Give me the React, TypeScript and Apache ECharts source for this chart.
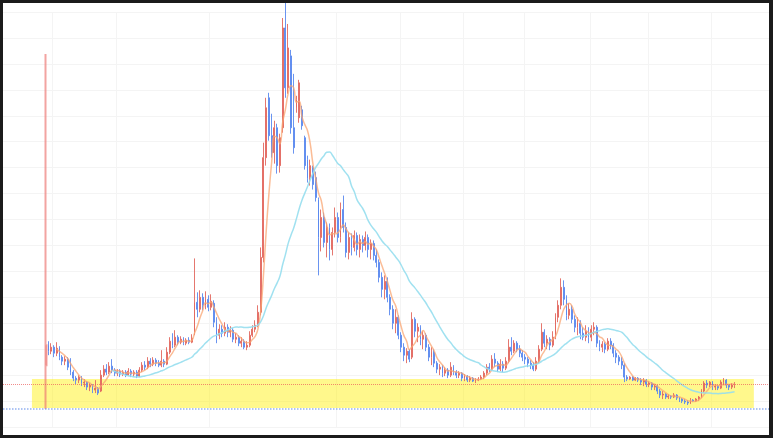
import React, { useEffect, useRef } from "react";
import * as echarts from "echarts";

// candles: [open, close, low, high]
const candles: number[][] = [
  [62, 82, 18, 374], [82, 76, 72, 86], [76, 80, 73, 84], [80, 74, 70, 82], [74, 79, 71, 85],
  [79, 70, 67, 81], [70, 66, 62, 72], [66, 68, 62, 71], [68, 60, 57, 70], [60, 55, 52, 69],
  [55, 49, 46, 57], [49, 47, 43, 51], [47, 50, 44, 52], [50, 44, 41, 51], [44, 45, 40, 48],
  [45, 40, 37, 46], [40, 42, 36, 44], [42, 37, 34, 43], [37, 39, 34, 47], [39, 34, 32, 40],
  [36, 52, 35, 57], [52, 58, 50, 62], [58, 55, 52, 63], [55, 61, 53, 65], [61, 57, 54, 68],
  [57, 54, 51, 59], [54, 56, 51, 58], [56, 53, 50, 58], [53, 55, 51, 57], [55, 52, 50, 57],
  [52, 56, 51, 59], [56, 53, 50, 58], [53, 55, 50, 57], [55, 51, 49, 57], [51, 57, 50, 60],
  [57, 62, 55, 65], [62, 60, 57, 66], [60, 66, 58, 70], [66, 63, 60, 69], [63, 67, 61, 70],
  [67, 64, 61, 69], [64, 62, 60, 67], [62, 66, 60, 77], [66, 63, 60, 68], [63, 75, 62, 80],
  [75, 86, 73, 90], [86, 82, 79, 94], [82, 90, 80, 97], [90, 85, 82, 92], [85, 88, 83, 91],
  [88, 84, 82, 90], [84, 87, 82, 89], [87, 85, 83, 90], [85, 89, 84, 93], [95, 125, 92, 169],
  [125, 118, 110, 135], [118, 130, 115, 137], [130, 122, 117, 134], [122, 128, 118, 136], [128, 120, 116, 132],
  [120, 126, 117, 133], [124, 105, 100, 127], [105, 92, 84, 110], [92, 98, 88, 103], [98, 94, 90, 102],
  [94, 100, 91, 105], [100, 95, 90, 103], [95, 97, 90, 101], [97, 88, 85, 99], [88, 90, 84, 94],
  [90, 84, 81, 92], [84, 86, 80, 90], [86, 80, 78, 88], [80, 82, 77, 86], [82, 92, 80, 96],
  [92, 98, 90, 102], [98, 102, 95, 107], [102, 115, 100, 122], [115, 170, 112, 180], [170, 270, 165, 285],
  [270, 320, 262, 330], [330, 292, 287, 335], [292, 275, 270, 314], [275, 300, 264, 307], [300, 262, 254, 304],
  [262, 290, 255, 294], [300, 400, 295, 410], [400, 340, 330, 427], [340, 380, 334, 404], [372, 300, 294, 378],
  [300, 280, 274, 354], [320, 328, 315, 332], [310, 345, 305, 348], [318, 302, 298, 322], [290, 262, 258, 292],
  [268, 249, 245, 272], [250, 262, 242, 268], [260, 243, 238, 262], [250, 230, 226, 256], [228, 190, 152, 230],
  [190, 210, 176, 218], [210, 185, 180, 215], [185, 200, 170, 205], [200, 178, 167, 204], [178, 195, 172, 200],
  [195, 210, 190, 220], [210, 190, 185, 215], [190, 218, 185, 225], [218, 200, 195, 232], [200, 175, 170, 205],
  [175, 190, 168, 195], [190, 180, 172, 194], [180, 192, 176, 197], [192, 178, 172, 195], [178, 188, 170, 193],
  [188, 182, 175, 192], [182, 190, 177, 196], [190, 178, 170, 193], [178, 184, 168, 188], [184, 172, 167, 187],
  [172, 165, 160, 178], [165, 150, 145, 168], [150, 138, 130, 155], [138, 146, 128, 152], [146, 130, 125, 150],
  [130, 118, 112, 133], [118, 104, 98, 122], [104, 110, 94, 118], [110, 92, 88, 112], [92, 80, 75, 95],
  [80, 72, 66, 84], [72, 76, 64, 79], [76, 68, 65, 78], [70, 108, 68, 115], [108, 96, 90, 110],
  [96, 100, 85, 104], [100, 88, 82, 102], [88, 92, 78, 96], [92, 80, 76, 94], [80, 70, 66, 83],
  [70, 75, 62, 80], [75, 64, 60, 78], [64, 58, 54, 66], [58, 60, 52, 63], [60, 54, 50, 62],
  [54, 57, 51, 60], [57, 52, 49, 59], [52, 60, 50, 65], [60, 55, 52, 62], [55, 52, 49, 57],
  [52, 54, 49, 56], [54, 49, 46, 55], [49, 51, 46, 53], [51, 47, 45, 52], [47, 49, 45, 51],
  [49, 46, 45, 50], [46, 47, 44, 49], [47, 48, 46, 50], [48, 50, 47, 52], [50, 54, 48, 56],
  [54, 60, 52, 63], [60, 58, 55, 64], [58, 68, 56, 72], [68, 64, 60, 74], [64, 58, 55, 66],
  [58, 63, 56, 68], [63, 59, 55, 66], [59, 66, 57, 70], [66, 80, 64, 88], [80, 76, 72, 90],
  [76, 84, 74, 87], [84, 78, 75, 86], [78, 74, 70, 82], [74, 70, 66, 77], [70, 68, 63, 73],
  [68, 64, 60, 70], [64, 62, 58, 67], [62, 58, 56, 65], [58, 66, 56, 70], [66, 78, 64, 82],
  [78, 95, 76, 104], [95, 84, 80, 98], [84, 88, 78, 92], [88, 82, 77, 90], [82, 90, 80, 96],
  [90, 110, 88, 114], [110, 122, 105, 127], [122, 140, 118, 149], [140, 128, 122, 147], [128, 112, 107, 132],
  [112, 118, 108, 124], [118, 108, 104, 122], [108, 100, 95, 112], [100, 104, 92, 110], [104, 94, 88, 107],
  [94, 90, 87, 100], [90, 96, 86, 102], [96, 90, 84, 100], [90, 98, 86, 102], [98, 100, 92, 105],
  [100, 84, 80, 102], [84, 80, 76, 87], [80, 83, 75, 86], [83, 78, 74, 85], [78, 86, 76, 89],
  [86, 82, 78, 89], [82, 74, 70, 84], [74, 70, 64, 77], [70, 66, 62, 72], [66, 62, 58, 70],
  [62, 50, 45, 64], [50, 48, 46, 52], [48, 50, 47, 51], [50, 47, 46, 51], [47, 49, 46, 50],
  [49, 47, 45, 50], [47, 45, 42, 49], [45, 47, 41, 49], [47, 43, 40, 48], [43, 44, 40, 46],
  [44, 40, 37, 45], [40, 41, 37, 43], [41, 36, 33, 42], [36, 32, 29, 38], [32, 33, 28, 36],
  [33, 30, 28, 34], [30, 31, 28, 33], [31, 30, 28, 32], [30, 32, 29, 34], [32, 29, 27, 33],
  [29, 28, 25, 30], [28, 26, 24, 29], [26, 25, 23, 28], [25, 24, 22, 27], [24, 27, 23, 29],
  [27, 26, 25, 28], [26, 28, 25, 29], [28, 30, 26, 31], [30, 36, 29, 38], [36, 44, 34, 46],
  [44, 42, 39, 47], [42, 45, 40, 46], [45, 40, 37, 46], [40, 41, 37, 42], [41, 39, 37, 42],
  [39, 45, 38, 47], [45, 47, 42, 49], [47, 42, 39, 48], [42, 40, 37, 43], [40, 42, 38, 44],
  [42, 43, 39, 45],
];

const LEAD_EMPTY = 15;
const TRAIL_EMPTY = 12;
const TOTAL = LEAD_EMPTY + candles.length + TRAIL_EMPTY;
const categories: string[] = Array.from({ length: TOTAL }, (_, i) => `D${i + 1}`);

const bandTop = 48;
const bandBottom = 19;
const bandStartIdx = 10;
const bandEndIdx = 272;
const refLineRed = 43;
const refLineBlue = 18;
const vSplitIdx = [18, 41, 75, 121, 144, 167, 189, 213, 234, 257];

const UP = "#e2685f";
const DOWN = "#5a88ee";

function pad(arr: any[]) {
  return [
    ...Array(LEAD_EMPTY).fill("-"),
    ...arr,
    ...Array(TRAIL_EMPTY).fill("-"),
  ];
}

function ma(n: number) {
  const out: any[] = [];
  for (let i = 0; i < candles.length; i++) {
    if (i < n - 1) {
      out.push("-");
      continue;
    }
    let s = 0;
    for (let j = 0; j < n; j++) s += candles[i - j][1];
    out.push(+(s / n).toFixed(2));
  }
  return out;
}

export default function App() {
  const ref = useRef<HTMLDivElement>(null);
  useEffect(() => {
    if (!ref.current) return;
    const chart = echarts.init(ref.current, undefined, { renderer: "svg" });
    const candleItems = candles.map((c, i) => {
      if (i === 0) {
        return {
          value: c,
          itemStyle: {
            color: "rgba(236,120,115,0.75)",
            borderColor: "rgba(236,120,115,0.75)",
            borderWidth: 2,
          },
        };
      }
      const up = c[1] >= c[0];
      return {
        value: c,
        itemStyle: {
          color: up ? UP : DOWN,
          borderColor: up ? UP : DOWN,
          borderColorDoji: up ? UP : DOWN,
        },
      };
    });
    chart.setOption({
      animation: false,
      backgroundColor: "#ffffff",
      grid: { left: 0, right: 0, top: 9, bottom: 8 },
      xAxis: {
        type: "category",
        data: categories,
        boundaryGap: true,
        axisLine: { show: false },
        axisTick: { show: false },
        axisLabel: { show: false },
        splitLine: {
          show: true,
          interval: (index: number) => vSplitIdx.includes(index),
          lineStyle: { color: "#f4f4f4", width: 1 },
        },
      },
      yAxis: {
        type: "value",
        min: 0,
        max: 416,
        interval: 26,
        axisLine: { show: false },
        axisTick: { show: false },
        axisLabel: { show: false },
        splitLine: { show: true, lineStyle: { color: "#f4f4f4", width: 1 } },
      },
      series: [
        {
          type: "candlestick",
          data: pad(candleItems),
          clip: false,
          barMinWidth: 1,
          itemStyle: {
            color: UP,
            color0: DOWN,
            borderColor: UP,
            borderColor0: DOWN,
            borderColorDoji: UP,
            opacity: 0.9,
          },
        },
        {
          type: "line",
          data: pad(ma(5)),
          smooth: true,
          symbol: "none",
          lineStyle: { color: "rgba(250,165,115,0.75)", width: 1.5 },
          z: 3,
        },
        {
          type: "line",
          data: pad(ma(25)),
          smooth: true,
          symbol: "none",
          lineStyle: { color: "rgba(150,222,238,0.9)", width: 1.5 },
          z: 3,
        },
        {
          type: "line",
          data: Array(TOTAL).fill("-"),
          symbol: "none",
          z: 10,
          markArea: {
            silent: true,
            itemStyle: { color: "rgba(255,240,0,0.45)" },
            data: [
              [
                { xAxis: bandStartIdx, yAxis: bandTop },
                { xAxis: bandEndIdx, yAxis: bandBottom },
              ],
            ],
          },
          markLine: {
            silent: true,
            symbol: ["none", "none"],
            label: { show: false },
            data: [
              {
                yAxis: refLineRed,
                lineStyle: { color: "rgba(235,90,90,0.7)", type: "dotted", width: 1 },
              },
              {
                yAxis: refLineBlue,
                lineStyle: { color: "rgba(110,150,235,0.75)", type: "dotted", width: 1.5 },
              },
            ],
          },
        },
      ],
    });
    return () => chart.dispose();
  }, []);

  return (
    <div
      style={{
        position: "fixed",
        left: 0,
        top: 0,
        width: 773,
        height: 438,
        background: "#1b1b1b",
      }}
    >
      <div
        ref={ref}
        style={{
          position: "absolute",
          left: 3,
          top: 3,
          width: 766,
          height: 432,
          background: "#ffffff",
        }}
      />
    </div>
  );
}
